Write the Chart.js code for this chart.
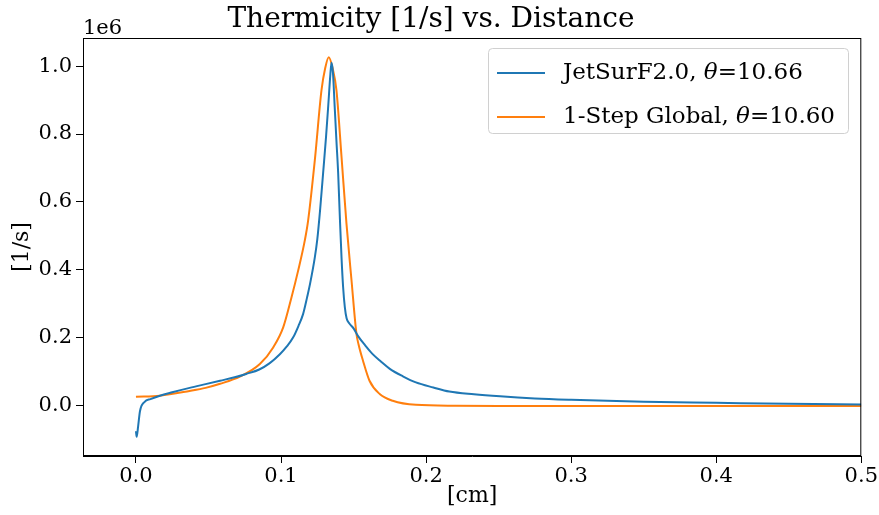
<!DOCTYPE html>
<html>
<head>
<meta charset="utf-8">
<script src="https://cdn.jsdelivr.net/npm/chart.js@4.4.1/dist/chart.umd.min.js"></script>
<style>
  html, body { margin: 0; padding: 0; background: #fff; }
  #wrap { width: 879px; height: 515px; }
</style>
</head>
<body>
<div id="wrap"><canvas id="chart1"></canvas></div>
<script>
// values, y in units of 1e6 [1/s]
const jetX = [0, 0.0005, 0.0015, 0.0028, 0.006, 0.01, 0.0165, 0.025, 0.037, 0.048, 0.058, 0.068, 0.076, 0.085, 0.092, 0.0992, 0.104, 0.1083, 0.112, 0.1152, 0.118, 0.12, 0.1233, 0.125, 0.127, 0.129, 0.131, 0.1325, 0.134, 0.1348, 0.1358, 0.137, 0.1382, 0.1394, 0.1405, 0.1417, 0.1428, 0.144, 0.1452, 0.147, 0.15, 0.153, 0.158, 0.163, 0.169, 0.175, 0.184, 0.193, 0.205, 0.216, 0.233, 0.251, 0.275, 0.3, 0.35, 0.4, 0.45, 0.5];
const jetY = [-0.074, -0.091, -0.06, -0.015, 0.012, 0.02, 0.03, 0.04, 0.053, 0.064, 0.074, 0.084, 0.094, 0.107, 0.125, 0.152, 0.175, 0.201, 0.235, 0.27, 0.32, 0.359, 0.437, 0.49, 0.58, 0.684, 0.79, 0.88, 0.975, 1.01, 0.98, 0.88, 0.78, 0.684, 0.56, 0.437, 0.35, 0.29, 0.258, 0.243, 0.228, 0.206, 0.178, 0.153, 0.13, 0.109, 0.087, 0.069, 0.054, 0.042, 0.034, 0.028, 0.022, 0.018, 0.012, 0.009, 0.006, 0.004];

const globX = [0, 0.0165, 0.037, 0.048, 0.058, 0.0716, 0.0854, 0.0946, 0.1015, 0.1072, 0.1118, 0.1164, 0.1187, 0.1233, 0.1279, 0.1305, 0.1329, 0.1355, 0.1382, 0.1417, 0.1451, 0.1486, 0.152, 0.1535, 0.1565, 0.161, 0.168, 0.177, 0.193, 0.22, 0.25, 0.3, 0.35, 0.4, 0.45, 0.5];
const globY = [0.027, 0.03, 0.044, 0.053, 0.065, 0.086, 0.123, 0.172, 0.231, 0.319, 0.398, 0.487, 0.546, 0.723, 0.929, 0.995, 1.026, 0.995, 0.929, 0.733, 0.537, 0.369, 0.212, 0.18, 0.133, 0.074, 0.035, 0.015, 0.003, 0.0005, 0, 0, 0, 0, 0, 0];

const xTicks = [0, 0.1, 0.2, 0.3, 0.4, 0.5];
const yTicks = [0, 0.2, 0.4, 0.6, 0.8, 1.0];

const seriesNames = ["JetSurF2.0", "1-Step Global"];
const thetas = ["10.66", "10.60"];

const FONT = "'DejaVu Serif', serif";

function toPoints(xs, ys) {
    return xs.map((x, i) => ({x: x, y: ys[i]}));
}

// frame, offset text and legend like matplotlib
const extras = {
    id: "extras",
    afterDatasetsDraw(chart) {
        const ctx = chart.ctx;
        const a = chart.chartArea;
        ctx.save();
        ctx.strokeStyle = "#000";
        ctx.lineWidth = 1;
        ctx.strokeRect(a.left + 0.5, a.top + 0.5, a.right - a.left - 1, a.bottom - a.top - 1);

        ctx.fillStyle = "#000";
        ctx.font = "21px " + FONT;
        ctx.textBaseline = "alphabetic";
        ctx.textAlign = "left";
        ctx.fillText("1e6", a.left, a.top - 4);

        // legend
        const bx = 488, by = 48, bw = 360, bh = 85;
        ctx.beginPath();
        ctx.roundRect(bx + 0.5, by + 0.5, bw, bh, 4);
        ctx.fillStyle = "rgba(255,255,255,0.8)";
        ctx.fill();
        ctx.strokeStyle = "#d0d0d0";
        ctx.stroke();

        chart.data.datasets.forEach((ds, i) => {
            const y = by + 25 + i * 44;
            ctx.strokeStyle = ds.borderColor;
            ctx.lineWidth = 2;
            ctx.beginPath();
            ctx.moveTo(bx + 9, y);
            ctx.lineTo(bx + 57, y);
            ctx.stroke();

            ctx.fillStyle = "#000";
            ctx.textBaseline = "middle";
            let tx = bx + 75;
            ctx.font = "23px " + FONT;
            const a1 = seriesNames[i] + ", ";
            ctx.fillText(a1, tx, y);
            tx += ctx.measureText(a1).width;
            ctx.font = "italic 23px " + FONT;
            ctx.fillText("\u03b8", tx, y);
            tx += ctx.measureText("\u03b8").width;
            ctx.font = "23px " + FONT;
            ctx.fillText("=" + thetas[i], tx, y);
        });
        ctx.restore();
    }
};

new Chart("chart1", {
    type: "line",
    data: {
        datasets: [{
            label: seriesNames[0],
            data: toPoints(jetX, jetY),
            borderColor: "#1f77b4",
            borderWidth: 2,
            pointRadius: 0,
            cubicInterpolationMode: "monotone"
        }, {
            label: seriesNames[1],
            data: toPoints(globX, globY),
            borderColor: "#ff7f0e",
            borderWidth: 2,
            pointRadius: 0,
            cubicInterpolationMode: "monotone"
        }]
    },
    options: {
        responsive: true,
        maintainAspectRatio: false,
        animation: false,
        layout: {padding: {left: 0, right: 17, top: 0, bottom: 0}},
        plugins: {
            legend: {display: false},
            tooltip: {enabled: false},
            title: {
                display: true,
                text: "Thermicity [1/s] vs. Distance",
                color: "#000",
                font: {family: FONT, size: 28, weight: "normal"},
                padding: {top: 3, bottom: 1.4}
            }
        },
        scales: {
            x: {
                type: "linear",
                min: -0.0365,
                max: 0.5,
                afterBuildTicks: s => { s.ticks = xTicks.map(v => ({value: v})); },
                afterFit: s => { s.height = 59; },
                ticks: {
                    color: "#000",
                    font: {family: FONT, size: 21},
                    padding: 1,
                    maxRotation: 0,
                    callback: v => v.toFixed(1)
                },
                grid: {drawOnChartArea: false, drawTicks: true, tickLength: 7, color: "#000"},
                border: {display: true, color: "#000"},
                title: {
                    display: true,
                    text: "[cm]",
                    color: "#000",
                    font: {family: FONT, size: 22},
                    padding: {top: 0, bottom: 6}
                }
            },
            y: {
                min: -0.1475,
                max: 1.0826,
                afterBuildTicks: s => { s.ticks = yTicks.map(v => ({value: v})); },
                afterFit: s => { s.width = 83; },
                ticks: {
                    color: "#000",
                    font: {family: FONT, size: 21},
                    padding: 4,
                    callback: v => v.toFixed(1)
                },
                grid: {drawOnChartArea: false, drawTicks: true, tickLength: 7, color: "#000"},
                border: {display: true, color: "#000"},
                title: {
                    display: true,
                    text: "[1/s]",
                    color: "#000",
                    font: {family: FONT, size: 22},
                    padding: {top: 9, bottom: 0}
                }
            }
        }
    },
    plugins: [extras]
});
</script>
</body>
</html>
